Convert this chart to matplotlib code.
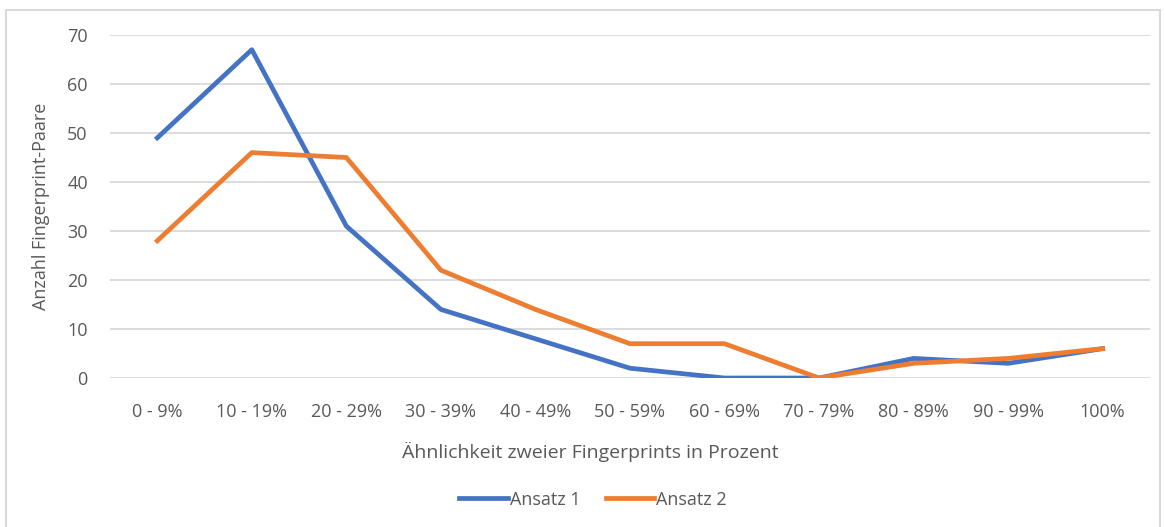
import matplotlib.pyplot as plt
from matplotlib.patches import Rectangle

# Ähnlichkeitsklassen und Anzahl der Fingerprint-Paare je Ansatz
kategorien = ['0 - 9%', '10 - 19%', '20 - 29%', '30 - 39%', '40 - 49%', '50 - 59%',
              '60 - 69%', '70 - 79%', '80 - 89%', '90 - 99%', '100%']
ansatz_1 = [49, 67, 31, 14, 8, 2, 0, 0, 4, 3, 6]
ansatz_2 = [28, 46, 45, 22, 14, 7, 7, 0, 3, 4, 6]

plt.rcParams['font.family'] = ['Open Sans', 'DejaVu Sans']
grau = '#595959'

fig = plt.figure(figsize=(11.65, 5.27), dpi=100)
ax = fig.add_axes([0.0944, 0.2827, 0.8927, 0.6509])

x = range(len(kategorien))
ax.plot(x, ansatz_1, color='#4472C4', lw=3.4, label='Ansatz 1', solid_joinstyle='round')
ax.plot(x, ansatz_2, color='#ED7D31', lw=3.4, label='Ansatz 2', solid_joinstyle='round')

ax.set_xlim(-0.5, len(kategorien) - 0.5)
ax.set_ylim(0, 70)
ax.set_yticks(range(0, 71, 10))
ax.set_xticks(list(x))
ax.set_xticklabels(kategorien)
ax.tick_params(length=0, labelsize=13, colors=grau)
ax.tick_params(axis='x', pad=18)
ax.tick_params(axis='y', pad=16)
ax.grid(axis='y', color='#D9D9D9', lw=1.3)
ax.set_axisbelow(True)
for s in ax.spines.values():
    s.set_visible(False)

# Achsentitel
fig.text(0.5064, 0.142, 'Ähnlichkeit zweier Fingerprints in Prozent', fontsize=14,
         color=grau, ha='center', va='center')
fig.text(0.035, 0.609, 'Anzahl Fingerprint-Paare', fontsize=13, color=grau,
         rotation=90, ha='center', va='center')

fig.legend(loc='center', bbox_to_anchor=(0.509, 0.052), ncol=2, frameon=False,
           fontsize=13, handlelength=2.7, handletextpad=0.1, columnspacing=1.4,
           labelcolor=grau)

# heller Rahmen um das gesamte Diagramm
fig.patches.append(Rectangle((0.005, -0.05), 0.991, 1.031, transform=fig.transFigure,
                             fill=False, edgecolor='#D9D9D9', lw=1.5))

fig.savefig('out.png', dpi=100)
